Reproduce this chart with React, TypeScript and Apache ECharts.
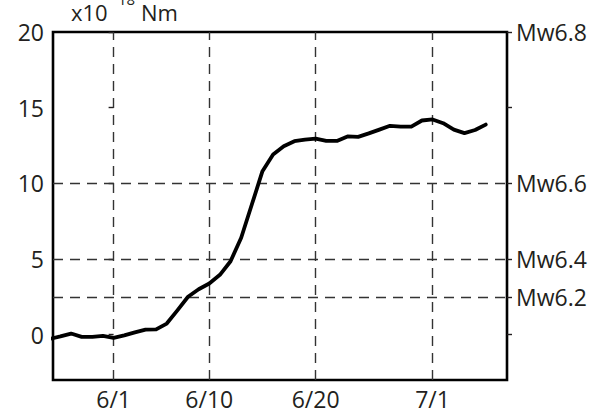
import React, { useEffect, useRef } from "react";
import * as echarts from "echarts";

// days relative to June 1
const dayOffsets = [-6, -5, -4, -3, -2, -1, 0, 1, 2, 3, 4, 5, 6, 7, 8, 9, 10, 11, 12, 13, 14, 15, 16, 17, 18, 19, 20, 21, 22, 23, 24, 25, 26, 27, 28, 29, 30, 31, 32, 33, 34, 35];
const moment = [-0.28, -0.12, 0.07, -0.15, -0.15, -0.08, -0.22, -0.05, 0.15, 0.33, 0.35, 0.73, 1.6, 2.5, 3.0, 3.38, 3.95, 4.85, 6.4, 8.6, 10.8, 11.9, 12.45, 12.78, 12.88, 12.95, 12.8, 12.8, 13.1, 13.07, 13.3, 13.55, 13.8, 13.75, 13.75, 14.15, 14.22, 13.97, 13.55, 13.32, 13.52, 13.88];

const tickDays = [0, 9, 19, 30];
const tickLabels = ["6/1", "6/10", "6/20", "7/1"];
const leftTicks = [0, 5, 10, 15, 20];
const rightTicks = [0, 2.5, 5, 10, 15, 20];
const mwValues = [2.5, 5, 10, 20];
const mwLabels = ["Mw6.2", "Mw6.4", "Mw6.6", "Mw6.8"];
const gridYValues = [2.5, 5, 10];

const FONT = "Open Sans";
const INK = "#231f20";

export default function App() {
  const ref = useRef<HTMLDivElement>(null);
  useEffect(() => {
    if (!ref.current) return;
    const chart = echarts.init(ref.current, undefined, { renderer: "svg" });
    const dash = { type: [10, 7] as any, color: "#333", width: 1.4 };
    chart.setOption({
      animation: false,
      grid: {
        left: 53,
        right: 95,
        top: 32,
        bottom: 36,
        show: true,
        borderColor: "#000",
        borderWidth: 2.6,
      },
      xAxis: {
        type: "value",
        min: -5.7,
        max: 37,
        axisLine: { show: false },
        axisTick: { show: false },
        splitLine: { show: false },
        axisLabel: {
          customValues: tickDays,
          formatter: (v: number) => tickLabels[tickDays.indexOf(v)] ?? "",
          fontFamily: FONT,
          fontSize: 23,
          color: INK,
          margin: 7,
        },
      },
      yAxis: [
        {
          type: "value",
          position: "left",
          min: -3,
          max: 20,
          axisLine: { show: false },
          splitLine: { show: false },
          axisTick: {
            show: true,
            customValues: leftTicks,
            length: 5,
            lineStyle: { color: INK, width: 1.4 },
          },
          axisLabel: {
            customValues: leftTicks,
            fontFamily: FONT,
            fontSize: 23,
            color: INK,
            margin: 9,
          },
        },
        {
          type: "value",
          position: "right",
          min: -3,
          max: 20,
          axisLine: { show: false },
          splitLine: { show: false },
          axisTick: {
            show: true,
            customValues: rightTicks,
            length: 5,
            lineStyle: { color: INK, width: 1.4 },
          },
          axisLabel: {
            customValues: mwValues,
            formatter: (v: number) => mwLabels[mwValues.indexOf(v)] ?? "",
            fontFamily: FONT,
            fontSize: 23,
            color: INK,
            margin: 9,
          },
        },
      ],
      graphic: [
        { type: "text", x: 71, y: 12, style: { text: "x10", fontFamily: FONT, fontSize: 22, lineHeight: 18, fill: INK, verticalAlign: "middle" } },
        { type: "text", x: 118, y: -1, style: { text: "18", fontFamily: FONT, fontSize: 15, fill: INK, verticalAlign: "middle" } },
        { type: "text", x: 141, y: 12, style: { text: "Nm", fontFamily: FONT, fontSize: 22, lineHeight: 18, fill: INK, verticalAlign: "middle" } },
      ],
      series: [
        {
          type: "line",
          z: 3,
          data: dayOffsets.map((d, i) => [d, moment[i]]),
          showSymbol: false,
          symbol: "none",
          lineStyle: { color: "#000", width: 3.8, cap: "round", join: "round" },
          clip: true,
          markLine: {
            z: 1,
            silent: true,
            symbol: "none",
            label: { show: false },
            lineStyle: dash,
            emphasis: { disabled: true },
            data: [
              ...tickDays.map((d) => ({ xAxis: d })),
              ...gridYValues.map((v) => ({ yAxis: v })),
            ],
          },
        },
      ],
    });
    return () => chart.dispose();
  }, []);
  return (
    <div
      ref={ref}
      style={{ position: "fixed", left: 0, top: 0, width: 602, height: 416, background: "#fff" }}
    />
  );
}
